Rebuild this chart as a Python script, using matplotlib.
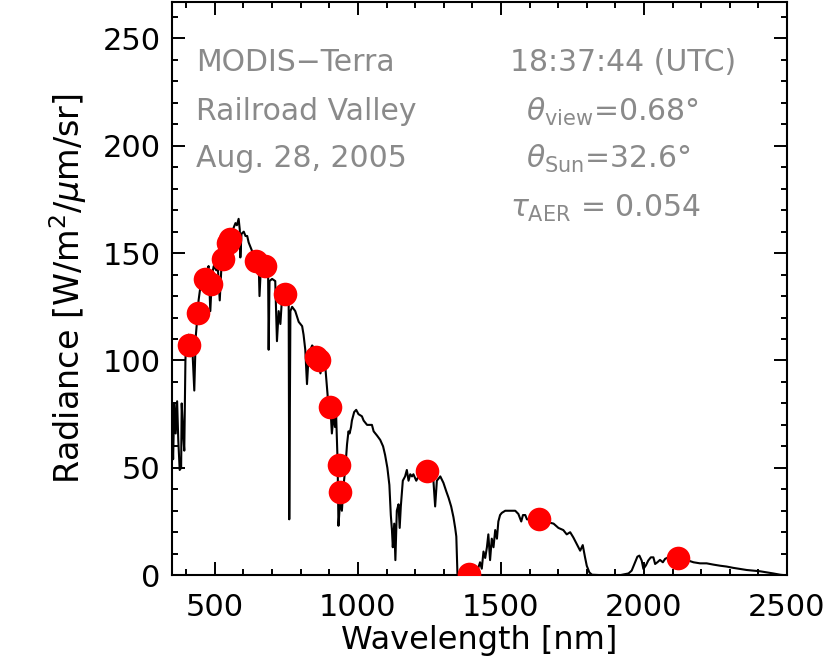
import matplotlib
matplotlib.use("Agg")
import matplotlib.pyplot as plt
from matplotlib.ticker import MultipleLocator

# spectrum (wavelength nm, radiance W/m2/um/sr)
wl = [350, 351, 354, 358, 363, 368, 372, 377, 382, 384, 389, 393, 397, 400, 408,
      414, 420, 428, 433, 438, 443, 449, 454, 461, 467, 473, 478, 484, 490, 496,
      505, 510, 517, 523, 531, 537, 548, 560, 572, 577, 583, 587, 589, 593, 601,
      607, 613, 618, 624, 630, 641, 653, 656, 661, 676, 686, 688, 691, 700, 711,
      717, 723, 729, 735, 742, 752, 758, 760, 764, 770, 781, 793, 805, 810, 816,
      822, 828, 840, 846, 855, 862, 869, 876, 886, 894, 898, 904, 909, 915, 920,
      924, 929, 932, 938, 944, 950, 956, 962, 967, 971, 976, 979, 987, 994, 1002,
      1014, 1020, 1032, 1049, 1055, 1067, 1078, 1088, 1095, 1103, 1110, 1115, 1119, 1122, 1127,
      1131, 1136, 1142, 1146, 1150, 1157, 1165, 1171, 1177, 1183, 1189, 1194, 1204, 1212, 1225,
      1240, 1255, 1264, 1270, 1276, 1288, 1299, 1309, 1317, 1326, 1334, 1340, 1344, 1346, 1348,
      1360, 1380, 1400, 1408, 1416, 1427, 1433, 1439, 1445, 1451, 1456, 1462, 1468, 1474, 1480,
      1486, 1491, 1497, 1503, 1515, 1526, 1538, 1550, 1561, 1571, 1577, 1585, 1591, 1605, 1620,
      1640, 1655, 1666, 1684, 1701, 1718, 1730, 1742, 1753, 1765, 1777, 1786, 1794, 1800, 1809,
      1818, 1850, 1900, 1917, 1946, 1957, 1969, 1977, 1984, 1992, 1998, 2007, 2015, 2024, 2033,
      2039, 2047, 2056, 2066, 2074, 2085, 2100, 2120, 2140, 2155, 2173, 2196, 2219, 2243, 2266,
      2289, 2312, 2336, 2359, 2382, 2406, 2429, 2452, 2476, 2490]
rad = [72, 67, 54, 80, 66, 81, 63, 49, 50, 80, 66, 58, 100, 111, 112,
       102, 109, 86, 111, 119, 128, 134, 137, 139, 140, 142, 144, 123, 140, 144,
       142, 144, 128, 144, 148, 153, 158, 160, 164, 163, 166, 161, 148, 159, 160,
       158, 158, 155, 153, 151, 149, 146, 130, 144, 144, 142, 105, 137, 138, 137,
       109, 123, 117, 130, 131, 128, 126, 26, 123, 125, 123, 118, 116, 112, 105,
       89, 103, 107, 106, 103, 100, 94, 99, 97, 84, 75, 78, 66, 75, 69,
       74, 53, 23, 35, 30, 42, 50, 61, 67, 66, 69, 72, 76, 77, 75,
       74, 72, 70, 70, 67, 65, 63, 60, 56, 50, 42, 28, 21, 13, 24,
       7, 30, 33, 22, 32, 44, 46, 49, 44, 47, 46, 47, 44, 46, 48,
       49, 47, 44, 32, 44, 46, 43, 39, 36, 32, 27, 22, 18, 10, 0.5,
       0, 0, 0, 0.5, 1.3, 6, 3, 11, 8, 13, 19, 7, 17, 13, 21,
       17, 25, 28, 29, 30, 30, 30, 30, 28.5, 25, 28, 28, 26, 26, 26,
       26, 25, 24.6, 24, 22, 21, 19, 20, 17.6, 14.5, 11.4, 14, 8.3, 4.4, 1.3,
       0.2, 0, 0, 0, 0.8, 2.1, 6, 8.6, 9.1, 6.8, 2.9, 4.6, 6.8, 8.3, 8.3,
       5.2, 6, 7.1, 6, 7.6, 8.3, 8, 7.8, 7.2, 6.8, 6, 5.5, 5.5, 4.9, 4.4,
       4, 3.4, 2.9, 2.4, 2.1, 1.8, 1.3, 0.8, 0.2, 0]

# MODIS band radiances (red dots)
band_wl = [411, 441, 465, 487, 527, 546, 554, 644, 676, 744, 853, 865, 903, 935, 936,
           1243, 1388, 1633, 2119]
band_rad = [107, 122, 138, 135.5, 147.5, 154.5, 156.4, 146.2, 144, 131, 101.6, 100,
            78.3, 51.5, 38.6, 48.7, 0.5, 26.2, 7.8]

fig = plt.figure(figsize=(8.32, 6.68), dpi=100)
ax = fig.add_axes([0.2067, 0.139, 0.7392, 0.858])

ax.plot(wl, rad, color="black", lw=1.5)
ax.plot(band_wl, band_rad, "o", color="#ff0000", ms=17, mec="none", zorder=5)

ax.set_xlim(350, 2500)
ax.set_ylim(0, 267)
ax.xaxis.set_major_locator(MultipleLocator(500))
ax.xaxis.set_minor_locator(MultipleLocator(100))
ax.yaxis.set_major_locator(MultipleLocator(50))
ax.yaxis.set_minor_locator(MultipleLocator(10))
ax.tick_params(which="both", direction="in", top=True, right=True, width=1.4)
ax.tick_params(which="major", length=9.5)
ax.tick_params(which="minor", length=4.5)
ax.tick_params(axis="x", pad=13, labelsize=22)
ax.tick_params(axis="y", pad=8, labelsize=22)
for s in ax.spines.values():
    s.set_linewidth(1.5)

ax.set_xlabel("Wavelength [nm]", fontsize=23, labelpad=2)
ax.set_ylabel(r"Radiance [W/m$^2$/$\mu$m/sr]", fontsize=24, labelpad=10)

gray = "#8a8a8a"
kw = dict(transform=ax.transData, fontsize=21.5, color=gray, va="center")
ax.text(434, 239, "MODIS\u2212Terra", **kw)
ax.text(434, 216, "Railroad Valley", **kw)
ax.text(434, 194, "Aug. 28, 2005", **kw)
ax.text(1531, 239, "18:37:44 (UTC)", **kw)
ax.text(1588, 216, r"$\theta_{\rm view}$=0.68$\degree$", **kw)
ax.text(1588, 194, r"$\theta_{\rm Sun}$=32.6$\degree$", **kw)
ax.text(1531, 171, r"$\tau_{\rm AER}$ = 0.054", **kw)

fig.savefig("out.png", dpi=100)
